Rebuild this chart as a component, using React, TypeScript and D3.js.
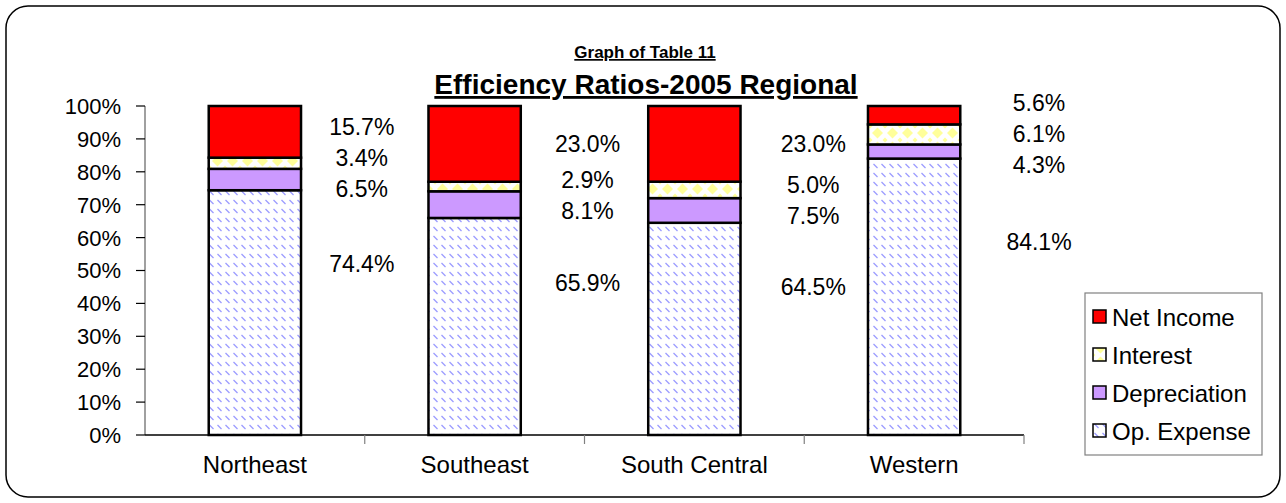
import React from 'react';
import * as d3 from 'd3';

const categories = ['Northeast', 'Southeast', 'South Central', 'Western'];
const seriesNames = ['Op. Expense', 'Depreciation', 'Interest', 'Net Income'];
const opExpense = [74.4, 65.9, 64.5, 84.1];
const depreciation = [6.5, 8.1, 7.5, 4.3];
const interest = [3.4, 2.9, 5.0, 6.1];
const netIncome = [15.7, 23.0, 23.0, 5.6];
const yTicks = [0, 0.1, 0.2, 0.3, 0.4, 0.5, 0.6, 0.7, 0.8, 0.9, 1];

const W = 1286;
const H = 503;
const margin = { top: 106, right: 262, bottom: 68, left: 145 };
const FONT = 'Arial, "Liberation Sans", Helvetica, sans-serif';

const fills: Record<string, string> = {
  'Op. Expense': 'url(#pOp)',
  'Depreciation': '#cc99ff',
  'Interest': 'url(#pInt)',
  'Net Income': '#ff0000',
};

export default function App() {
  const rows = categories.map((c, i) => ({
    cat: c,
    'Op. Expense': opExpense[i],
    'Depreciation': depreciation[i],
    'Interest': interest[i],
    'Net Income': netIncome[i],
  }));
  const stacked = d3.stack<any>().keys(seriesNames).offset(d3.stackOffsetExpand)(rows);

  const x = d3.scaleBand().domain(categories).range([margin.left, W - margin.right]).padding(0);
  const y = d3.scaleLinear().domain([0, 1]).range([H - margin.bottom, margin.top]);
  const bw = x.bandwidth() * 0.42;

  // label positions: segment midpoints (op expense a bit higher), then pushed apart
  const labels: { x: number; y: number; text: string }[] = [];
  categories.forEach((c, i) => {
    const items = stacked.map((s, k) => {
      const [a, b] = s[i];
      const f = k === 0 ? 0.7 : 0.5;
      return { y: y(a + (b - a) * f), text: (rows[i] as any)[s.key].toFixed(1) + '%' };
    });
    const top = items.slice(1).sort((p, q) => p.y - q.y);
    const gap = 31;
    for (let it = 0; it < 50; it++) {
      let moved = false;
      for (let j = 0; j < top.length - 1; j++) {
        const d = top[j + 1].y - top[j].y;
        if (d < gap) {
          const m = (gap - d) / 2;
          top[j].y -= m;
          top[j + 1].y += m;
          moved = true;
        }
      }
      if (!moved) break;
    }
    const lx = (x(c) as number) + x.bandwidth() - 3 + i * 6;
    [items[0], ...top].forEach(l => labels.push({ x: lx, y: l.y, text: l.text }));
  });

  const legendItems = [...seriesNames].reverse();

  return (
    <svg width={W} height={H} style={{ position: 'absolute', left: 0, top: 0, background: '#fff' }} fontFamily={FONT}>
      <defs>
        <pattern id="pOp" width="8" height="9" patternUnits="userSpaceOnUse">
          <rect width="8" height="9" fill="#fff" />
          <line x1="1.5" y1="2" x2="5.5" y2="6" stroke="#9a9aff" strokeWidth="1.3" />
        </pattern>
        <pattern id="pInt" width="15" height="14" patternUnits="userSpaceOnUse">
          <rect width="15" height="14" fill="#fff" />
          <path d="M7.5,1.5 L13,7 L7.5,12.5 L2,7 Z" fill="#ffff99" />
          <path d="M0,0 L2.5,0 L0,2.5 Z M15,0 L12.5,0 L15,2.5 Z M0,14 L2.5,14 L0,11.5 Z M15,14 L12.5,14 L15,11.5 Z" fill="#ffff99" />
        </pattern>
      </defs>
      <rect x={6} y={6} width={1274} height={491} rx={22} ry={22} fill="#fff" stroke="#000" strokeWidth={1.5} />

      <text x={645} y={58} textAnchor="middle" fontSize={17} fontWeight="bold" textDecoration="underline">Graph of Table 11</text>
      <text x={646} y={94} textAnchor="middle" fontSize={28} fontWeight="bold" textDecoration="underline">Efficiency Ratios-2005 Regional</text>

      {/* y axis */}
      <line x1={margin.left} x2={margin.left} y1={y(0)} y2={y(1)} stroke="#808080" strokeWidth={1.5} />
      {yTicks.map(t => (
        <g key={t}>
          <line x1={margin.left - 9} x2={margin.left} y1={y(t)} y2={y(t)} stroke="#000" strokeWidth={1.2} />
          <text x={margin.left - 24} y={y(t)} dy="0.36em" textAnchor="end" fontSize={22}>{Math.round(t * 100)}%</text>
        </g>
      ))}

      {/* bars */}
      {stacked.map(s => (
        <g key={s.key}>
          {s.map((d, i) => {
            const c = categories[i];
            const bx = (x(c) as number) + (x.bandwidth() - bw) / 2;
            return (
              <rect key={c} x={bx} y={y(d[1])} width={bw} height={y(d[0]) - y(d[1])}
                fill={fills[s.key]} stroke="#000" strokeWidth={2.5} />
            );
          })}
        </g>
      ))}

      {/* x axis */}
      <line x1={margin.left} x2={W - margin.right} y1={y(0)} y2={y(0)} stroke="#000" strokeWidth={1.5} />
      {categories.map(c => (
        <g key={c}>
          <line x1={(x(c) as number) + x.bandwidth()} x2={(x(c) as number) + x.bandwidth()} y1={y(0)} y2={y(0) + 9} stroke="#808080" strokeWidth={1.2} />
          <text x={(x(c) as number) + x.bandwidth() / 2} y={y(0) + 38} textAnchor="middle" fontSize={24}>{c}</text>
        </g>
      ))}

      {/* data labels */}
      {labels.map((l, i) => (
        <text key={i} x={l.x} y={l.y} dy="0.36em" textAnchor="middle" fontSize={23}>{l.text}</text>
      ))}

      {/* legend */}
      <rect x={1085} y={293} width={177} height={162} fill="#fff" stroke="#808080" strokeWidth={1.2} />
      {legendItems.map((n, i) => (
        <g key={n} transform={`translate(1093,${317 + i * 38})`}>
          <rect x={0} y={-7} width={13} height={13} fill={fills[n]} stroke="#000" strokeWidth={1.5} />
          <text x={19} y={0} dy="0.36em" fontSize={24}>{n}</text>
        </g>
      ))}
    </svg>
  );
}
